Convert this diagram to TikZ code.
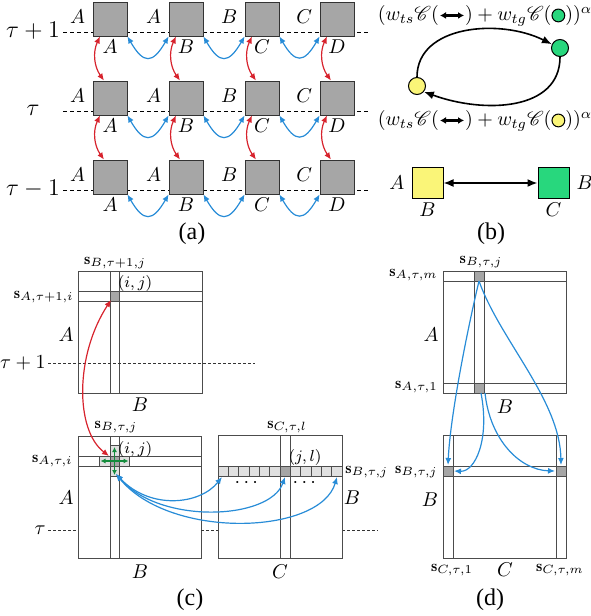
\documentclass[tikz,border=0pt]{standalone}
\usepackage{amsmath}
\usepackage{mathrsfs}
\usepackage{fontspec}
\newfontfamily\capfont{Liberation Serif}
\usetikzlibrary{arrows.meta,positioning}

\definecolor{arrred}{RGB}{215,35,45}
\definecolor{arrblue}{RGB}{40,140,215}
\definecolor{arrgreen}{RGB}{20,140,60}
\definecolor{dotgreen}{RGB}{40,215,125}
\definecolor{dotyellow}{RGB}{250,245,120}

\tikzset{
    sq/.style={draw=black!80, fill=black!35, minimum size=17pt, inner sep=0pt},
    lab/.style={inner sep=1.5pt},
    slab/.style={inner sep=1pt, font=\footnotesize},
    redarr/.style={{Latex[length=3.5pt,width=3pt]}-{Latex[length=3.5pt,width=3pt]}, draw=arrred, line width=0.6pt},
    bluearr/.style={{Latex[length=3.5pt,width=3pt]}-{Latex[length=3.5pt,width=3pt]}, draw=arrblue, line width=0.6pt},
    bluetip/.style={-{Latex[length=3.5pt,width=3pt]}, draw=arrblue, line width=0.6pt},
    greenarr/.style={{Latex[length=2.5pt,width=2.5pt]}-{Latex[length=2.5pt,width=2.5pt]}, draw=arrgreen, line width=0.6pt},
    mline/.style={draw=black!70, line width=0.45pt},
    tline/.style={draw=black!80, line width=0.4pt, dash pattern=on 1.5pt off 1pt},
    dot/.style={circle, draw, line width=0.5pt, minimum size=8.5pt, inner sep=0pt},
    colsq/.style={draw, line width=0.5pt, minimum size=15.5pt, inner sep=0pt},
}

\newcommand{\arrsym}{\tikz[baseline=-0.6ex,x=1pt,y=1pt]\draw[{Latex[length=3pt,width=3.5pt]}-{Latex[length=3pt,width=3.5pt]},line width=1.1pt] (0,0) -- (12,0);}
\newcommand{\greendot}{\tikz[baseline=-0.6ex,x=1pt,y=1pt]\draw[fill=dotgreen,line width=0.5pt] (0,0) circle (3.2);}
\newcommand{\yellowdot}{\tikz[baseline=-0.6ex,x=1pt,y=1pt]\draw[fill=dotyellow,line width=0.5pt] (0,0) circle (3.2);}

\begin{document}
\begin{tikzpicture}[x=0.5pt, y=-0.5pt]
    \useasboundingbox (0,0) rectangle (590,616);

    % (a) three time slices
    \foreach \row/\yy/\tl in {1/19/{\tau+1}, 2/98/{\tau}, 3/177/{\tau-1}} {
        \draw[dashed, dash pattern=on 2pt off 1.5pt, line width=0.5pt] (63,\yy+13) -- (370,\yy+13);
        \node (t\row) at (33,\yy+12) {\large$\tl$};
        \foreach \col/\xx/\ta/\ba in {1/110/A/A, 2/186/A/B, 3/262/B/C, 4/337/C/D} {
            \node[sq] (q\row\col) at (\xx,\yy) {};
            \node[lab, anchor=east] (a\row\col) at ([xshift=-2pt,yshift=1pt]q\row\col.west) {$\ta$};
            \node[lab, below=0pt of q\row\col] (b\row\col) {$\ba$};
        }
    }
    \foreach \row/\nxt in {1/2, 2/3}
        \foreach \col in {1,...,4}
            \draw[redarr] ([xshift=-5pt]q\row\col.south) to[bend right=30] ([xshift=-3pt]q\nxt\col.north);
    \foreach \row in {1,2,3}
        \foreach \col/\nxt in {1/2, 2/3, 3/4}
            \draw[bluearr] (q\row\col.south east) to[bend right=60, looseness=2] (q\row\nxt.south west);
    \node (capa) at (192,234) {\capfont\large (a)};

    % (b)
    \node (f1) at (485,16) {$(w_{ts}\mathscr{C}(\arrsym)+w_{tg}\mathscr{C}(\greendot))^{\alpha}$};
    \node (f2) at (485,121) {$(w_{ts}\mathscr{C}(\arrsym)+w_{tg}\mathscr{C}(\yellowdot))^{\alpha}$};
    \node[dot, fill=dotgreen] (gc) at (560,48) {};
    \node[dot, fill=dotyellow] (yc) at (417,86) {};
    \draw[-{Latex[length=5pt,width=4pt]}, line width=0.8pt] (yc.north) .. controls +(0,-52) and +(-52,-26) .. (gc.155);
    \draw[-{Latex[length=5pt,width=4pt]}, line width=0.8pt] (gc.south) .. controls +(0,54) and +(60,22) .. (yc.-40);
    \node[colsq, fill=dotyellow] (ys) at (427.5,183) {};
    \node[colsq, fill=dotgreen] (gs) at (553.5,183) {};
    \draw[{Latex[length=5pt,width=4pt]}-{Latex[length=5pt,width=4pt]}, line width=0.8pt] (ys) -- (gs);
    \node[left=0pt of ys] (ysa) {$A$};
    \node[lab, below=0pt of ys] (ysb) {$B$};
    \node[right=0pt of gs] (gsb) {$B$};
    \node[lab, below=0pt of gs] (gsc) {$C$};
    \node (capb) at (491,234) {\capfont\large (b)};

    % (c) upper matrix
    \fill[black!35] (110,291) rectangle (119,301);
    \draw[mline] (78,271) rectangle (202,393)
        (110,271) -- (110,393) (119,271) -- (119,393)
        (78,291) -- (202,291) (78,301) -- (202,301);
    \draw[tline] (48,363) -- (255,363);
    \node[anchor=east, inner sep=1pt] (tc1) at (48,363) {$\tau+1$};
    \node[slab] (sc1) at (115,263) {$\mathbf{s}_{B,\tau+1,j}$};
    \node[slab, anchor=east] (sc2) at (76,297) {$\mathbf{s}_{A,\tau+1,i}$};
    \node (ijc1) at (135,283) {\footnotesize$(i,j)$};
    \node (ac1) at (66,335) {$A$};
    \node (bc1) at (140,405) {$B$};
    \coordinate (cellup) at (111,300);

    % (c) lower left matrix
    \fill[black!12] (110,445) rectangle (119,476) (99,456) rectangle (129,466);
    \fill[black!35] (110,456) rectangle (119,466);
    \draw[mline] (78,436) rectangle (201,558)
        (110,436) -- (110,558) (119,436) -- (119,558)
        (78,456) -- (201,456) (78,466) -- (201,466)
        (110,445) rectangle (119,476) (99,456) rectangle (129,466);
    \draw[tline] (48,530) -- (78,530) (201,530) -- (218,530) (342,530) -- (378,530);
    \node[anchor=east, inner sep=1pt] (tc2) at (48,530) {$\tau$};
    \node[slab] (sc3) at (116,427) {$\mathbf{s}_{B,\tau,j}$};
    \node[slab, anchor=east] (sc4) at (75,461) {$\mathbf{s}_{A,\tau,i}$};
    \node (ijc2) at (135,449) {\footnotesize$(i,j)$};
    \node (ac2) at (66,498) {$A$};
    \node (bc2) at (140,572) {$B$};
    \coordinate (cellij) at (114.5,461);
    \coordinate (celldn) at (109,456);
    \coordinate (cellbl) at (116,474);
    \draw[greenarr] ([xshift=-7pt]cellij) -- ([xshift=7pt]cellij);
    \draw[greenarr] ([yshift=7pt]cellij) -- ([yshift=-7pt]cellij);
    \draw[redarr] (celldn) .. controls (75,430) and (75,355) .. (cellup);

    % (c) lower right matrix
    \fill[black!12] (218,466) rectangle (342,476);
    \fill[black!35] (280.3,466) rectangle (290.7,476);
    \draw[mline] (218,435) rectangle (342,558)
        (280.3,435) -- (280.3,558) (290.7,435) -- (290.7,558)
        (218,466) rectangle (342,476);
    \foreach \k in {1,...,11}
        \draw[mline] ({218+\k*124/12},466) -- ({218+\k*124/12},476);
    \node[slab] (sc5) at (287,427) {$\mathbf{s}_{C,\tau,l}$};
    \node (jlc) at (305,457) {\footnotesize$(j,l)$};
    \node[slab, anchor=west] (sc6) at (343,472) {$\mathbf{s}_{B,\tau,j}$};
    \node (bc3) at (352,498) {$B$};
    \node (cc1) at (280,572) {$C$};
    \node (dots1) at (248,483) {$\cdots$};
    \node (dots2) at (306,483) {$\cdots$};
    \coordinate (r0) at (222,477);
    \coordinate (r6) at (285,477);
    \coordinate (r11) at (337,477);
    \draw[bluearr] (cellbl) .. controls (150,510) and (200,505) .. (r0);
    \draw[bluearr] (cellbl) .. controls (160,525) and (270,520) .. (r6);
    \draw[bluearr] (cellbl) .. controls (170,540) and (320,535) .. (r11);
    \node (capc) at (190,600) {\capfont\large (c)};

    % (d) upper matrix
    \fill[black!35] (474,271) rectangle (484,281) (474,383) rectangle (484,393);
    \draw[mline] (443,271) rectangle (566,393)
        (474,271) -- (474,393) (484,271) -- (484,393)
        (443,281) -- (566,281) (443,383) -- (566,383);
    \node[slab] (sd1) at (481,262) {$\mathbf{s}_{B,\tau,j}$};
    \node[slab, anchor=east] (sd2) at (440,275) {$\mathbf{s}_{A,\tau,m}$};
    \node[slab, anchor=east] (sd3) at (440,387) {$\mathbf{s}_{A,\tau,1}$};
    \node (ad1) at (431,335) {$A$};
    \node (bd1) at (505,407) {$B$};

    % (d) lower matrix
    \fill[black!35] (443,466) rectangle (453,476) (556,466) rectangle (566,476);
    \draw[mline] (443,435) rectangle (566,558)
        (453,435) -- (453,558) (556,435) -- (556,558)
        (443,466) -- (566,466) (443,476) -- (566,476);
    \node[slab, anchor=east] (sd4) at (440,472) {$\mathbf{s}_{B,\tau,j}$};
    \node (bd2) at (430,500) {$B$};
    \node[slab] (sd5) at (452,570) {$\mathbf{s}_{C,\tau,1}$};
    \node (cd1) at (505,570) {$C$};
    \node[slab] (sd6) at (560,570) {$\mathbf{s}_{C,\tau,m}$};
    \coordinate (dm) at (479,281);
    \coordinate (d1a) at (481,393);
    \coordinate (d1b) at (485,393);
    \coordinate (dl) at (448,465);
    \coordinate (dr) at (561,465);
    \coordinate (dl2) at (454,471);
    \coordinate (dr2) at (555,471);
    \draw[bluetip] (dm) .. controls (465,340) and (450,420) .. (dl);
    \draw[bluetip] (dm) .. controls (500,340) and (560,400) .. (dr);
    \draw[bluetip] (d1a) .. controls (490,440) and (475,472) .. (dl2);
    \draw[bluetip] (d1b) .. controls (490,440) and (520,470) .. (dr2);
    \node (capd) at (490,600) {\capfont\large (d)};
\end{tikzpicture}
\end{document}
